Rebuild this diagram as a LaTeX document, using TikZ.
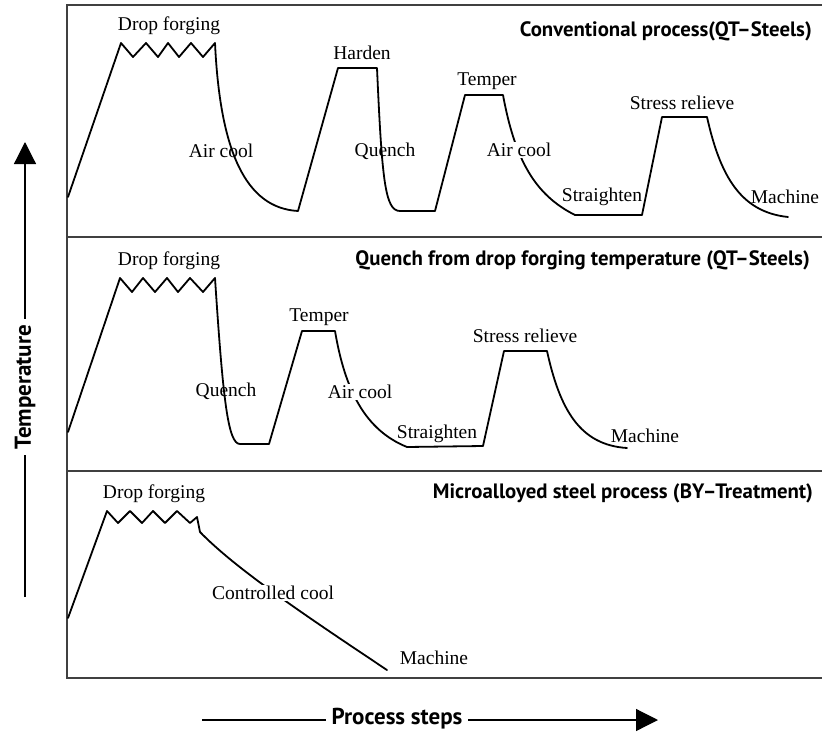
\documentclass[tikz,border=0pt]{standalone}
\usepackage{fontspec}
\setmainfont{Liberation Serif}
\newfontfamily\titlefont{PT Sans}
\usetikzlibrary{arrows.meta}
\begin{document}
\begin{tikzpicture}[x=1pt,y=-1pt,
  curve/.style={line width=1.8pt, line join=round, line cap=round},
  frame/.style={line width=1.6pt, draw=black!75},
  lbl/.style={font=\fontsize{19.5}{21}\selectfont, inner sep=1pt},
  lblw/.style={lbl, fill=white},
  ttl/.style={font=\titlefont\bfseries\fontsize{20.8}{22}\selectfont, anchor=east, inner sep=0pt},
  axislbl/.style={font=\titlefont\bfseries\fontsize{23}{25}\selectfont, fill=white, inner sep=6pt},
  axisline/.style={line width=1.2pt, -{Triangle[width=22pt,length=22pt]}}
]
\useasboundingbox (0,0) rectangle (822,736);
% frame
\draw[frame] (823,5) -- (67,5) -- (67,678) -- (823,678);
\draw[frame] (67,237) -- (823,237);
\draw[frame] (67,471) -- (823,471);

% ---------- panel 1 ----------
\draw[curve] (68,197) -- (121,43) -- (133,57) -- (146,43) -- (158,57) -- (168,43) -- (179,57) -- (191,43) -- (203,57) -- (215,43)
  .. controls (220,150) and (245,208) .. (298,211) -- (338,68) -- (377,68)
  .. controls (382,180) and (385,211) .. (400,211) -- (435,211) -- (465,95) -- (503,95)
  .. controls (515,160) and (535,195) .. (575,215) -- (642,215) -- (662,117) -- (707,117)
  .. controls (720,175) and (740,212) .. (788,217);
\node[ttl] (t1) at (812,31) {Conventional process(QT–Steels)};
\node[lbl] (a1) at (169,26) {Drop forging};
\node[lbl] (a2) at (221,151) {Air cool};
\node[lbl] (a3) at (362,53) {Harden};
\node[lbl] (a4) at (385,151) {Quench};
\node[lbl] (a5) at (487,81) {Temper};
\node[lblw] (a6) at (519,150) {Air cool};
\node[lbl] (a7) at (602,197) {Straighten};
\node[lbl] (a8) at (682,103) {Stress relieve};
\node[lbl] (a9) at (785,197) {Machine};

% ---------- panel 2 ----------
\draw[curve] (68,432) -- (120,278) -- (132,292) -- (143,278) -- (155,292) -- (167,278) -- (178,292) -- (190,278) -- (203,292) -- (215,278)
  .. controls (223,400) and (228,444) .. (240,444) -- (269,444) -- (302,331) -- (335,331)
  .. controls (345,390) and (365,430) .. (407,447) -- (483,446) -- (504,351) -- (547,351)
  .. controls (560,410) and (580,445) .. (627,448);
\node[ttl] (t2) at (810,260) {Quench from drop forging temperature (QT–Steels)};
\node[lbl] (b1) at (169,261) {Drop forging};
\node[lbl] (b2) at (226,391) {Quench};
\node[lbl] (b3) at (319,317) {Temper};
\node[lblw] (b4) at (360,392) {Air cool};
\node[lbl] (b5) at (437,434) {Straighten};
\node[lbl] (b6) at (525,336) {Stress relieve};
\node[lbl] (b7) at (645,436) {Machine};

% ---------- panel 3 ----------
\draw[curve] (68,618) -- (107,511) -- (118,523) -- (130,511) -- (142,523) -- (153,511) -- (165,523) -- (177,511) -- (190,523) -- (197,517)
  -- (200,532) .. controls (235,568) and (300,612) .. (387,670);
\node[ttl] (t3) at (813,493) {Microalloyed steel process (BY–Treatment)};
\node[lbl] (c1) at (154,494) {Drop forging};
\node[lblw] (c2) at (273,593) {Controlled cool};
\node[lbl] (c3) at (434,658) {Machine};

% ---------- axes ----------
\coordinate (ty0) at (25,597);
\coordinate (ty1) at (25,142);
\draw[axisline] (ty0) -- (ty1);
\node[axislbl, rotate=90] (temp) at (25,387) {Temperature};
\coordinate (px0) at (202,720);
\coordinate (px1) at (658,720);
\draw[axisline] (px0) -- (px1);
\node[axislbl] (proc) at (397,719) {Process steps};
\end{tikzpicture}
\end{document}
